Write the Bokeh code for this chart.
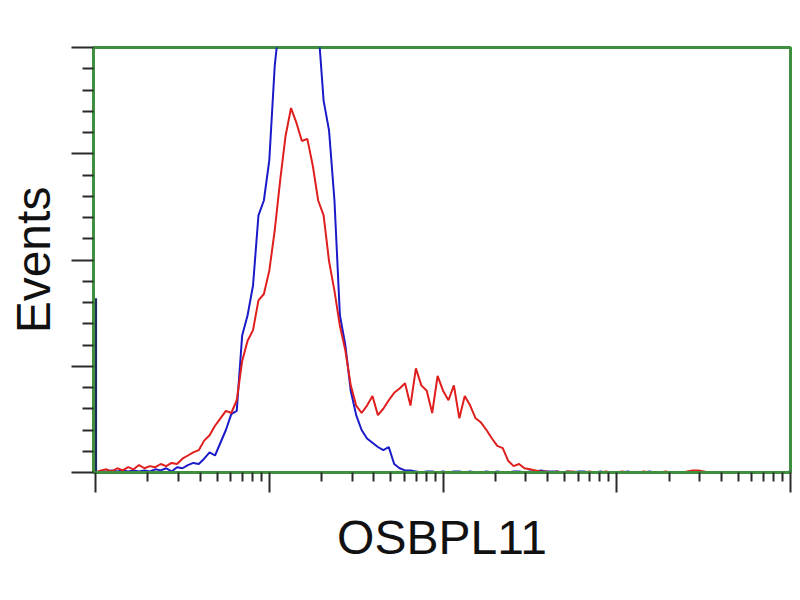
from bokeh.plotting import figure
from bokeh.models import Range1d, FixedTicker
from bokeh.embed import file_html
from bokeh.resources import INLINE

# ---- data ----
# channel index: 32 channels per decade over 4 decades
channels = list(range(129))
channels_per_decade = 32

blue_counts = [
    0, 1, 1, 2, 1, 2, 1, 2, 1, 2, 1, 3, 2, 4, 1, 5,
    4, 7, 9, 8, 13, 19, 16, 28, 40, 55, 58, 129, 148, 176, 242, 256,
    294, 383, 430, 470, 500, 520, 510, 490, 460, 420, 350, 322, 256, 148, 120, 77,
    54, 40, 32, 28, 24, 21, 24, 8, 4, 2, 2, 1, 0, 1, 1, 0,
    1, 0, 1, 1, 0, 1, 0, 0, 1, 0, 1, 0, 0, 1, 1, 0,
    1, 1, 2, 1, 1, 1, 0, 1, 0, 1, 1, 0, 0, 1, 0, 0,
    0, 0, 1, 0, 0, 0, 1, 0, 0, 0, 0, 0, 0, 0, 0, 0,
    0, 0, 0, 0, 0, 0, 0, 0, 0, 0, 0, 0, 0, 0, 0, 0,
    1,
]
red_counts = [
    0, 2, 3, 1, 4, 2, 5, 3, 7, 4, 6, 5, 8, 6, 9, 8,
    13, 16, 19, 21, 30, 35, 44, 51, 58, 56, 68, 105, 124, 134, 162, 168,
    190, 228, 275, 317, 343, 329, 312, 314, 289, 256, 242, 199, 171, 138, 115, 82,
    63, 56, 63, 72, 54, 60, 68, 75, 79, 84, 63, 98, 82, 77, 56, 91,
    77, 68, 82, 51, 72, 63, 51, 47, 40, 32, 25, 23, 11, 6, 8, 4,
    3, 2, 1, 1, 0, 1, 0, 1, 1, 0, 0, 1, 0, 0, 1, 0,
    0, 1, 0, 0, 0, 1, 0, 0, 0, 1, 0, 0, 0, 1, 2, 2,
    1, 0, 0, 0, 0, 0, 0, 0, 0, 0, 0, 0, 0, 0, 0, 0,
    0,
]
blue_first_channel_count = 164

x_label = "OSBPL11"
y_label = "Events"
x_major_ticks = [1, 10, 100, 1000, 10000]
y_major_ticks = [0, 100, 200, 300, 400]

# ---- chart ----
xs = [10 ** (c / channels_per_decade) for c in channels]

GREEN = "#3f8f3f"
TICK = "#2a2a2a"

p = figure(width=796, height=592, x_axis_type="log",
           x_range=Range1d(10 ** (-0.012), 10 ** 4), y_range=Range1d(0, 400),
           output_backend="svg", toolbar_location=None,
           min_border_left=93, min_border_right=6, min_border_top=47,
           min_border_bottom=120)
p.background_fill_color = "white"
p.border_fill_color = "white"
p.grid.visible = False
p.outline_line_color = GREEN
p.outline_line_width = 3

p.line(xs, blue_counts, line_color="#1a1ac8", line_width=2)
p.segment(x0=[xs[0]], y0=[0], x1=[xs[0]], y1=[blue_first_channel_count],
          line_color="#1b2b5e", line_width=3)
p.line(xs, red_counts, line_color="#e01e1e", line_width=2)

x_minor = [k * d for d in [1, 10, 100, 1000] for k in range(2, 10)]
p.xaxis.ticker = FixedTicker(ticks=x_major_ticks, minor_ticks=x_minor)
y_minor = [v for v in range(0, 401, 20) if v % 100 != 0]
p.yaxis.ticker = FixedTicker(ticks=y_major_ticks, minor_ticks=y_minor)

for ax in (p.xaxis[0], p.yaxis[0]):
    ax.axis_line_color = GREEN
    ax.axis_line_width = 3
    ax.major_tick_line_color = TICK
    ax.minor_tick_line_color = TICK
    ax.major_tick_line_width = 2
    ax.minor_tick_line_width = 2
    ax.major_tick_in = 0
    ax.minor_tick_in = 0
    ax.major_label_text_font_size = "1px"
    ax.major_label_text_color = None
    ax.major_label_standoff = 0
    ax.axis_label_text_font = "Liberation Sans"
    ax.axis_label_text_font_size = "48px"
    ax.axis_label_text_font_style = "normal"
    ax.axis_label_text_color = "#111111"

p.xaxis.major_tick_out = 20
p.xaxis.minor_tick_out = 9
p.yaxis.major_tick_out = 22
p.yaxis.minor_tick_out = 11
p.xaxis.axis_label = x_label
p.yaxis.axis_label = y_label
p.xaxis.axis_label_standoff = 18
p.yaxis.axis_label_standoff = 12

open("out.html", "w").write(file_html(p, INLINE))
